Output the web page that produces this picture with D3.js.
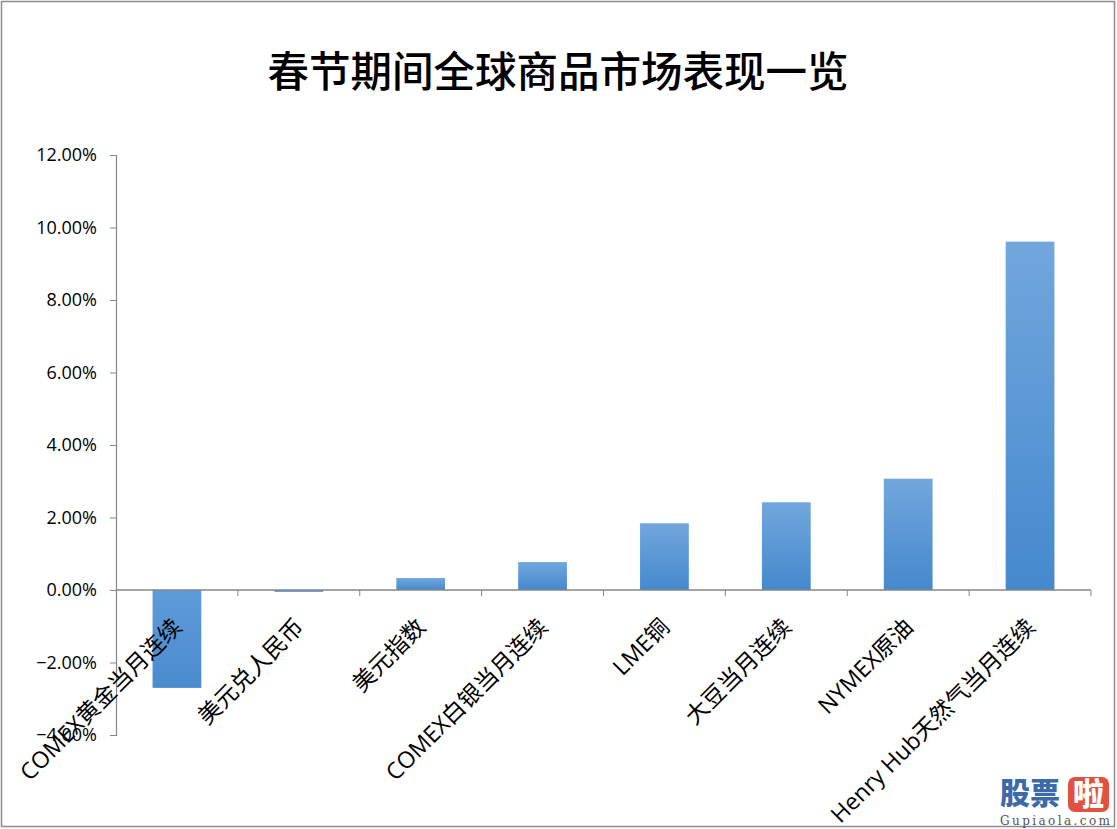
<!DOCTYPE html>
<html><head><meta charset="utf-8">
<script src="https://cdn.jsdelivr.net/npm/d3@7"></script>
<style>body{margin:0;background:#fff;}svg{display:block;}</style>
</head><body>
<svg id="chart" width="1117" height="829"></svg>
<script>
const title = "春节期间全球商品市场表现一览";
const categories = ["COMEX黄金当月连续","美元兑人民币","美元指数","COMEX白银当月连续","LME铜","大豆当月连续","NYMEX原油","Henry Hub天然气当月连续"];
const values = [-0.0270, -0.0005, 0.0033, 0.0077, 0.0184, 0.0242, 0.0307, 0.0961];
const yTicks = [-0.04,-0.02,0,0.02,0.04,0.06,0.08,0.10,0.12];

(function(){
const svg = d3.select("#chart");
const W = 1117, H = 829;
const pLeft = 116, pRight = 1091, pTop = 155, pBottom = 735;

svg.append("rect").attr("x",1.5).attr("y",1.5).attr("width",W-4).attr("height",H-4)
  .attr("fill","#fff").attr("stroke","#8c8c8c").attr("stroke-width",1.5);

const defs = svg.append("defs");
const grad = defs.append("linearGradient").attr("id","barGrad").attr("x1",0).attr("y1",0).attr("x2",0).attr("y2",1);
grad.append("stop").attr("offset","0%").attr("stop-color","#71a7dd");
grad.append("stop").attr("offset","100%").attr("stop-color","#4589cd");
const gradNeg = defs.append("linearGradient").attr("id","barGradNeg").attr("x1",0).attr("y1",0).attr("x2",0).attr("y2",1);
gradNeg.append("stop").attr("offset","0%").attr("stop-color","#5f9bd9");
gradNeg.append("stop").attr("offset","100%").attr("stop-color","#4a8bcd");

const x = d3.scaleBand().domain(categories).range([pLeft,pRight]).paddingInner(0.6).paddingOuter(0.3);
const xb = d3.scaleBand().domain(categories).range([pLeft,pRight]);
const y = d3.scaleLinear().domain([-0.04,0.12]).range([pBottom,pTop]);

svg.append("text").attr("x",558).attr("y",87).attr("text-anchor","middle")
  .attr("font-family","Noto Sans CJK SC").attr("font-weight",500).attr("font-size",41.5)
  .attr("fill","#000").text(title);

// y axis
const yAxis = svg.append("g").attr("transform",`translate(${pLeft},0)`)
  .call(d3.axisLeft(y).tickValues(yTicks).tickFormat(d3.format(".2%")).tickSize(6).tickPadding(13));
yAxis.select(".domain").attr("stroke","#868686").attr("stroke-width",1.2);
yAxis.selectAll(".tick line").attr("stroke","#868686");
yAxis.selectAll(".tick text").attr("font-family","Open Sans, Liberation Sans, sans-serif").attr("font-size",18).attr("fill","#000");

// bars
svg.append("g").selectAll("rect").data(categories).join("rect")
  .attr("x",d=>x(d))
  .attr("width",x.bandwidth())
  .attr("y",(d,i)=>y(Math.max(0,values[i])))
  .attr("height",(d,i)=>Math.abs(y(values[i])-y(0)))
  .attr("fill",(d,i)=>values[i]<0?"url(#barGradNeg)":"url(#barGrad)");

// x axis line at zero
const y0 = y(0);
svg.append("line").attr("x1",pLeft).attr("x2",pRight).attr("y1",y0).attr("y2",y0).attr("stroke","#868686").attr("stroke-width",1.5);
const bounds = categories.map(c=>xb(c)+xb.bandwidth());
svg.append("g").selectAll("line").data(bounds).join("line")
  .attr("x1",d=>d).attr("x2",d=>d).attr("y1",y0).attr("y2",y0+6).attr("stroke","#868686");

// x labels
svg.append("g").selectAll("text").data(categories).join("text")
  .attr("transform",d=>`translate(${xb(d)+xb.bandwidth()/2-5},${y0+27}) rotate(-45)`)
  .attr("text-anchor","end").attr("dy","0.7em")
  .attr("font-family","Open Sans, Noto Sans CJK SC, sans-serif").attr("font-weight",400)
  .attr("font-size",23).attr("fill","#000").text(d=>d);

// watermark
const wm = svg.append("g").attr("transform","translate(999,776)");
wm.append("text").attr("x",1).attr("y",28).attr("font-family","Noto Sans CJK SC").attr("font-weight",900)
  .attr("font-size",30).attr("fill","#3d6aa8").text("股票");
wm.append("rect").attr("x",69).attr("y",1).attr("width",41).attr("height",35).attr("rx",7).attr("fill","#e0523f");
wm.append("text").attr("x",74).attr("y",29).attr("font-family","Noto Sans CJK SC").attr("font-weight",900)
  .attr("font-size",31).attr("fill","#fff").text("啦");
wm.append("text").attr("x",1).attr("y",49).attr("font-family","DejaVu Serif").attr("font-size",12)
  .attr("textLength",110).attr("fill","#555").text("Gupiaola.com");
})();
</script>
</body></html>
